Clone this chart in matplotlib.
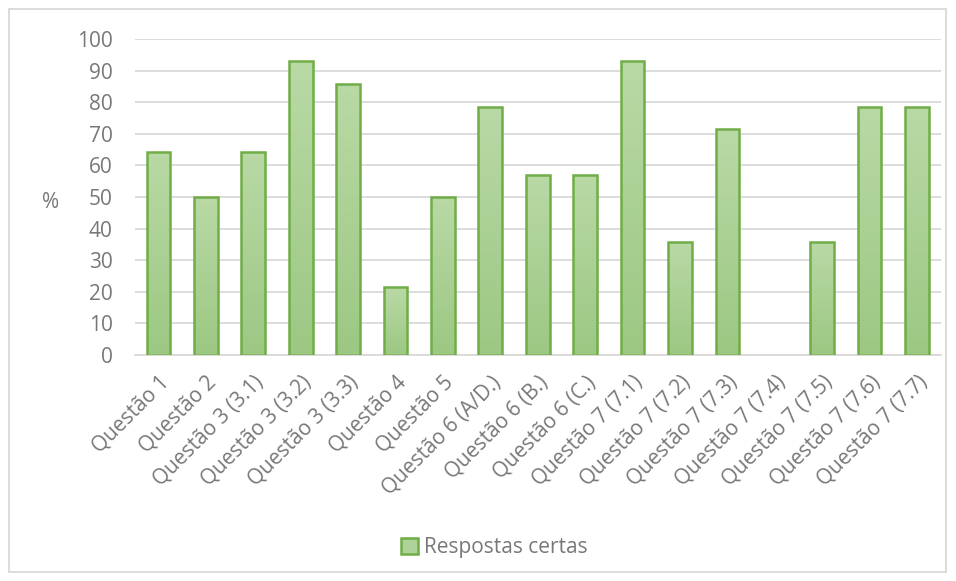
import numpy as np
import matplotlib.pyplot as plt
from matplotlib.patches import Rectangle
from matplotlib.colors import LinearSegmentedColormap

plt.rcParams['font.family'] = ['Open Sans', 'DejaVu Sans']

categorias = ['Questão 1', 'Questão 2', 'Questão 3 (3.1)', 'Questão 3 (3.2)', 'Questão 3 (3.3)',
              'Questão 4', 'Questão 5', 'Questão 6 (A/D.)', 'Questão 6 (B.)', 'Questão 6 (C.)',
              'Questão 7 (7.1)', 'Questão 7 (7.2)', 'Questão 7 (7.3)', 'Questão 7 (7.4)',
              'Questão 7 (7.5)', 'Questão 7 (7.6)', 'Questão 7 (7.7)']
respostas_certas = [64.3, 50.0, 64.3, 92.9, 85.7, 21.4, 50.0, 78.6, 57.1, 57.1,
                    92.9, 35.7, 71.4, 0.0, 35.7, 78.6, 78.6]
yticks = list(range(0, 101, 10))

cinza = '#787878'
fs = 15
fig = plt.figure(figsize=(9.56, 5.81), dpi=100)
ax = fig.add_axes([0.141, 0.389, 0.843, 0.544])

# gradient fill for bars (lighter at top)
cmap = LinearSegmentedColormap.from_list('verde', ['#9cc883', '#b9d9a5'])
grad = np.linspace(0, 1, 256).reshape(-1, 1)
x = np.arange(len(categorias))
largura = 0.5
for xi, v in zip(x, respostas_certas):
    if v <= 0:
        continue
    im = ax.imshow(grad, cmap=cmap, aspect='auto', origin='lower',
                   extent=(xi - largura / 2, xi + largura / 2, 0, v), zorder=2)
    r = Rectangle((xi - largura / 2, 0), largura, v, facecolor='none',
                  edgecolor='#70ad47', linewidth=1.8, zorder=3)
    ax.add_patch(r)
    im.set_clip_path(r)

ax.set_xlim(-0.5, len(categorias) - 0.5)
ax.set_ylim(0, 100)
ax.set_yticks(yticks)
ax.yaxis.grid(True, color='#d9d9d9', linewidth=1.3)
ax.set_axisbelow(True)
for s in ['top', 'right', 'left']:
    ax.spines[s].set_visible(False)
ax.spines['bottom'].set_color('#d9d9d9')
ax.spines['bottom'].set_linewidth(1.3)
ax.tick_params(axis='both', length=0, colors=cinza, labelsize=fs)
ax.tick_params(axis='y', pad=16)
ax.set_xticks(x)
ax.set_xticklabels(categorias, rotation=45, ha='right', rotation_mode='anchor')
ax.tick_params(axis='x', pad=12)
ax.set_ylabel('%', rotation=0, color=cinza, fontsize=fs, va='center', ha='center')
ax.yaxis.set_label_coords(-0.105, 0.481)

leg_patch = Rectangle((0, 0), 1, 1, facecolor='#aed29a', edgecolor='#70ad47', linewidth=1.8)
fig.legend([leg_patch], ['Respostas certas'], loc='center', bbox_to_anchor=(0.517, 0.057),
           frameon=False, fontsize=fs, labelcolor=cinza, handlelength=0.8, handleheight=0.8,
           handletextpad=0.3)

fig.add_artist(Rectangle((0.009, 0.015), 0.981, 0.97, transform=fig.transFigure,
                         facecolor='none', edgecolor='#d9d9d9', linewidth=1.3))

fig.savefig('out.png', dpi=100)
